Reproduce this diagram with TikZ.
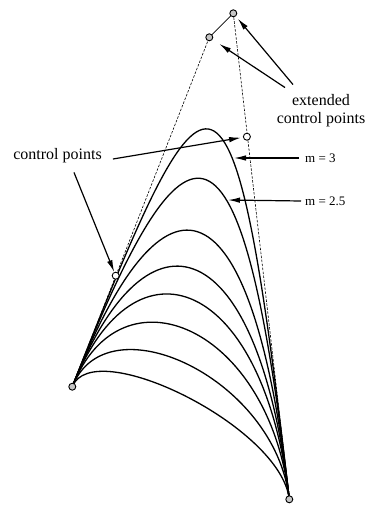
\documentclass[tikz,border=0pt]{standalone}
\usepackage{fontspec}
\setmainfont{Liberation Serif}
\usetikzlibrary{calc,arrows.meta}

\begin{document}
\begin{tikzpicture}[x=1pt, y=-1pt, >={Latex[length=12pt,width=5.5pt]},
  font=\fontsize{16}{18}\selectfont,
  curve/.style={line width=1.3pt},
  guide/.style={line width=0.6pt, dash pattern=on 2.5pt off 1.5pt},
  ctrl/.style={circle, draw, line width=0.9pt, fill=white, inner sep=0pt, minimum size=7pt},
  endpt/.style={ctrl, fill=gray!45},
  pointer/.style={->, line width=1.2pt},
  lbl/.style={align=center, inner sep=1pt},
  mlbl/.style={anchor=west, inner sep=1pt, font=\fontsize{13}{15}\selectfont}]
\useasboundingbox (0,0) rectangle (370,506);
\coordinate (P0) at (72.3,386.7);
\coordinate (P3) at (289.3,499.3);
\coordinate (E1) at (209.3,37.3);
\coordinate (E2) at (233.3,13.3);
\coordinate (P1) at (115.7,275.7);
\coordinate (P2) at (246.9,136.7);
\foreach \s in {1,0.84,0.67,0.55,0.455,0.355,0.25,0.15}
  \draw[curve] (P0) .. controls ($(P0)!\s!(E1)$) and ($(P3)!\s!(E2)$) .. (P3);
\draw[guide] (P0) -- (E1);
\draw[guide] (E2) -- (P3);
\draw[line width=0.6pt] (E1) -- (E2);
\node[endpt] (p0) at (P0) {};
\node[endpt] (p3) at (P3) {};
\node[endpt] (e1) at (E1) {};
\node[endpt] (e2) at (E2) {};
\node[ctrl] (p1) at (P1) {};
\node[ctrl] (p2) at (P2) {};
\node[lbl] (cp) at (57.5,156) {control points};
\node[lbl] (ecp) at (321,111) {extended\\control points};
\node[mlbl] (m3) at (304,158) {m = 3};
\node[mlbl] (m25) at (304,201) {m = 2.5};
\coordinate (c3) at (234,158);
\coordinate (c25) at (228,200);
\draw[pointer, shorten >=2pt] ([xshift=10pt,yshift=-3pt]cp.east) -- (p2);
\draw[pointer] ([xshift=16.5pt,yshift=-8pt]cp.south) -- (p1);
\draw[pointer, shorten >=8pt] ([xshift=-36pt,yshift=6pt]ecp.north) -- (e1);
\draw[pointer, shorten >=3pt] ([xshift=-28pt,yshift=9pt]ecp.north) -- (e2);
\draw[pointer] ([xshift=-5pt]m3.west) -- (c3);
\draw[pointer] ([xshift=-3pt]m25.west) -- (c25);
\end{tikzpicture}
\end{document}
